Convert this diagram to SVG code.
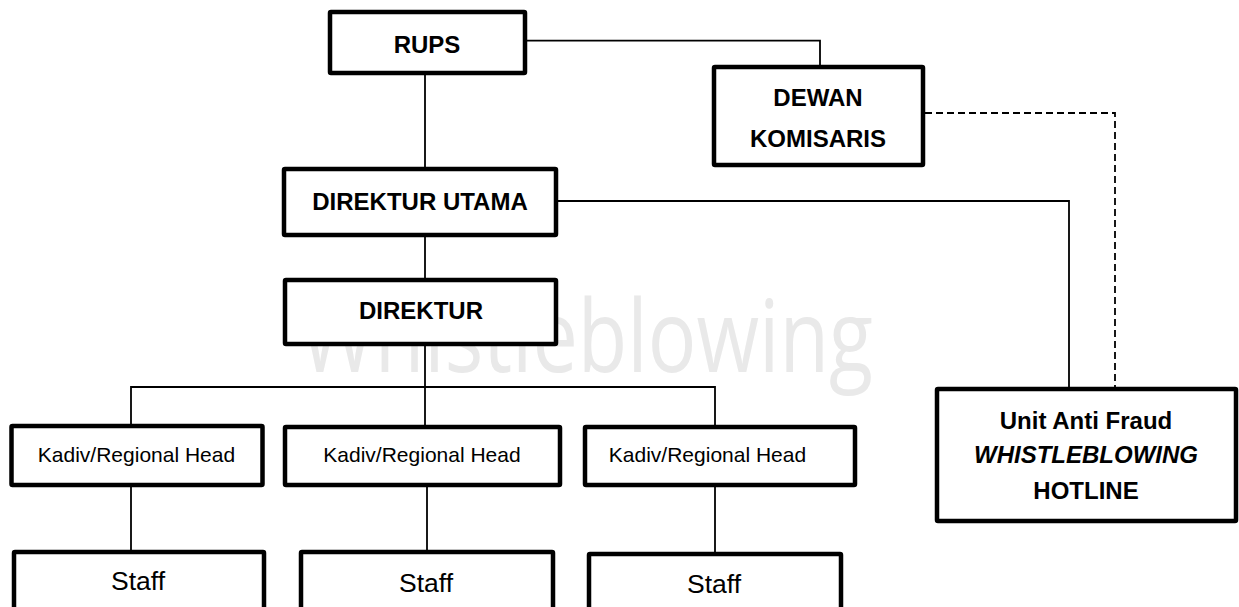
<svg xmlns="http://www.w3.org/2000/svg" width="1239" height="607" viewBox="0 0 1239 607">
<style>
.box{fill:#fff;stroke:#000;stroke-width:4.5;stroke-linejoin:round}
.ln{fill:none;stroke:#000;stroke-width:1.8}
.dash{fill:none;stroke:#000;stroke-width:1.8;stroke-dasharray:7,4}
.b{font-family:"Liberation Sans",Arial,sans-serif;font-weight:bold;font-size:24px;text-anchor:middle;fill:#000}
.bi{font-style:italic}
.k{font-family:"Liberation Sans",Arial,sans-serif;font-size:21px;text-anchor:middle;fill:#000}
.s{font-family:"Liberation Sans",Arial,sans-serif;font-size:26.5px;text-anchor:middle;fill:#000}
.wm{font-family:"Open Sans","Liberation Sans",sans-serif;font-size:101px;fill:#e9e9e9}
</style>
<rect width="1239" height="607" fill="#fff"/>
<text class="wm" x="300" y="372" textLength="573" lengthAdjust="spacingAndGlyphs">Whistleblowing</text>
<g id="connectors">
<path class="ln" d="M527,40.7 H820 V65"/>
<path class="ln" d="M425,75 V167"/>
<path class="ln" d="M558,201 H1069 V387"/>
<path class="dash" d="M925,113 H1115 V387"/>
<path class="ln" d="M425,237 V278"/>
<path class="ln" d="M425,346 V387"/>
<path class="ln" d="M131,424 V387 H715 V425"/>
<path class="ln" d="M425,387 V425"/>
<path class="ln" d="M131,487 V550"/>
<path class="ln" d="M427,487 V550"/>
<path class="ln" d="M715,487 V552"/>
</g>
<g id="rups"><rect class="box" x="330" y="12" width="195" height="61" rx="1"/><text class="b" x="427" y="53">RUPS</text></g>
<g id="dewan"><rect class="box" x="714" y="67" width="209" height="98" rx="1"/><text class="b" x="818" y="106">DEWAN</text><text class="b" x="818" y="147">KOMISARIS</text></g>
<g id="dirut"><rect class="box" x="284" y="169" width="272" height="66" rx="1"/><text class="b" x="420" y="210">DIREKTUR UTAMA</text></g>
<g id="direktur"><rect class="box" x="285" y="280" width="271" height="64" rx="1"/><text class="b" x="421" y="319">DIREKTUR</text></g>
<g id="unit"><rect class="box" x="937" y="389" width="299" height="132" rx="1"/><text class="b" x="1086" y="429">Unit Anti Fraud</text><text class="b bi" x="1086" y="463">WHISTLEBLOWING</text><text class="b" x="1086" y="499">HOTLINE</text></g>
<g id="kadiv1"><rect class="box" x="11.5" y="426" width="251" height="59" rx="1"/><text class="k" x="136.5" y="462">Kadiv/Regional Head</text></g>
<g id="kadiv2"><rect class="box" x="285" y="427" width="275" height="58" rx="1"/><text class="k" x="422" y="462">Kadiv/Regional Head</text></g>
<g id="kadiv3"><rect class="box" x="585" y="427" width="270" height="58" rx="1"/><text class="k" x="707.5" y="462">Kadiv/Regional Head</text></g>
<g id="staff1"><rect class="box" x="14" y="552" width="250" height="70" rx="1"/><text class="s" x="138" y="590">Staff</text></g>
<g id="staff2"><rect class="box" x="301" y="552" width="252" height="70" rx="1"/><text class="s" x="426" y="592">Staff</text></g>
<g id="staff3"><rect class="box" x="589" y="554" width="252" height="70" rx="1"/><text class="s" x="714" y="593">Staff</text></g>
</svg>
